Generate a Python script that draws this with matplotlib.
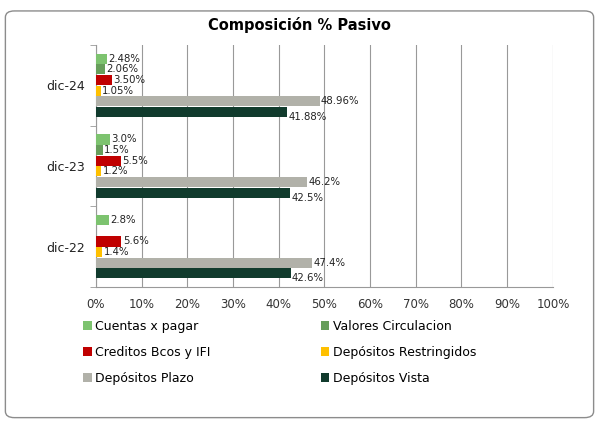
import matplotlib
matplotlib.use("Agg")
import matplotlib.pyplot as plt
from matplotlib.patches import FancyBboxPatch, Patch

plt.rcParams['font.family'] = ['DejaVu Sans']

periodos = ["dic-22", "dic-23", "dic-24"]
series = ["Cuentas x pagar", "Valores Circulacion", "Creditos Bcos y IFI",
          "Depósitos Restringidos", "Depósitos Plazo", "Depósitos Vista"]
colores = ["#7DC36F", "#679E5B", "#C00000", "#FFC000", "#B1B1A9", "#113B2D"]

# valores en % por periodo (None = sin dato)
cuentas_pagar = [2.8, 3.0, 2.48]
valores_circ = [None, 1.5, 2.06]
creditos = [5.6, 5.5, 3.50]
restringidos = [1.4, 1.2, 1.05]
plazo = [47.4, 46.2, 48.96]
vista = [42.6, 42.5, 41.88]
decimales = [1, 1, 2]

datos = [cuentas_pagar, valores_circ, creditos, restringidos, plazo, vista]

fig = plt.figure(figsize=(5.99, 4.21), dpi=100)
fig.patches.append(FancyBboxPatch((0.009, 0.008), 0.982, 0.966,
                                  boxstyle="round,pad=0,rounding_size=0.015",
                                  transform=fig.transFigure, fill=False,
                                  edgecolor="#8c8c8c", linewidth=1.0))

ax = fig.add_axes([0.160, 0.318, 0.763, 0.575])
w = 0.132
for i, (vals, col) in enumerate(zip(datos, colores)):
    off = (2.5 - i) * w
    for j, v in enumerate(vals):
        if v is None:
            continue
        y = j + off
        ax.barh(y, v, height=w * 0.95, color=col, zorder=3)
        dy = 0.06 if i == 5 else 0.0
        ax.text(v + 0.3, y - dy, f"{v:.{decimales[j]}f}%", va="center", ha="left",
                fontsize=7.3, color="#222222", zorder=4)

ax.set_xlim(0, 100)
ax.set_ylim(-0.5, 2.5)
ax.set_xticks(range(0, 101, 10))
ax.set_xticklabels([f"{t}%" for t in range(0, 101, 10)], fontsize=8.5, color="#333333")
ax.set_yticks(range(3))
ax.set_yticklabels(periodos, fontsize=9, color="#222222")
ax.set_yticks([-0.5, 0.5, 1.5, 2.5], minor=True)
ax.tick_params(axis="y", which="major", length=0, pad=8)
ax.tick_params(axis="y", which="minor", length=4, color="#999999")
ax.tick_params(axis="x", length=0, pad=8)
ax.grid(axis="x", color="#999999", linewidth=0.8, zorder=0)
for s in ["top", "right"]:
    ax.spines[s].set_visible(False)
ax.spines["left"].set_color("#999999")
ax.spines["bottom"].set_color("#999999")

fig.text(0.5, 0.94, "Composición % Pasivo", ha="center", va="center",
         fontsize=10.5, fontweight="bold")

handles = [Patch(facecolor=c, label=s) for s, c in zip(series, colores)]
orden = [0, 2, 4, 1, 3, 5]
fig.legend(handles=[handles[k] for k in orden], ncol=2, loc="upper left",
           bbox_to_anchor=(0.13, 0.252),
           frameon=False, fontsize=9, handlelength=0.7, handleheight=0.7,
           handletextpad=0.3, columnspacing=8.8, labelspacing=1.05,
           borderaxespad=0)

fig.savefig("out.png", dpi=100)
